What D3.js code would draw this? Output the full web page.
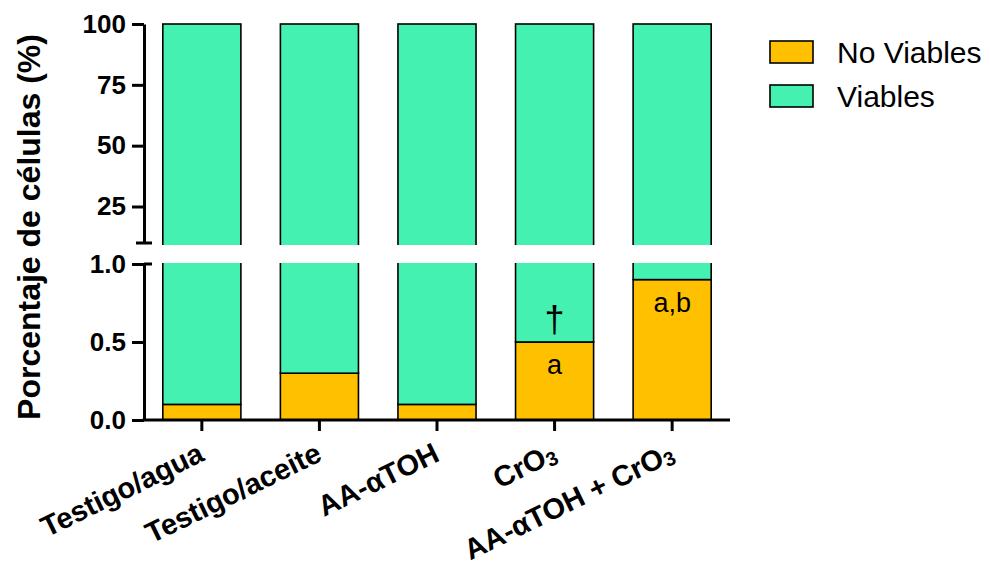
<!DOCTYPE html>
<html>
<head>
<meta charset="utf-8">
<script src="https://cdn.jsdelivr.net/npm/d3@7"></script>
<style>
  html, body { margin: 0; padding: 0; background: #fff; }
  svg { display: block; font-family: "Liberation Sans", Arial, sans-serif; }
</style>
</head>
<body>
<svg id="chart" width="990" height="572"></svg>
<script>
// Groups on the x axis
const categories = ["Testigo/agua", "Testigo/aceite", "AA-αTOH", "CrO3", "AA-αTOH + CrO3"];
// Percentage of non-viable cells per group; viable = 100 - non-viable
const noViables = [0.1, 0.3, 0.1, 0.5, 0.9];
const viables = noViables.map(v => 100 - v);
// Significance marks drawn inside the bars
const marks = [
  { group: "CrO3", series: "Viables", text: "†" },
  { group: "CrO3", series: "No Viables", text: "a" },
  { group: "AA-αTOH + CrO3", series: "No Viables", text: "a,b" }
];
const seriesNames = ["No Viables", "Viables"];
const upperTicks = [25, 50, 75, 100];
const lowerTicks = [0, 0.5, 1.0];

const colors = { "No Viables": "#FFC000", "Viables": "#44F1B1" };

const svg = d3.select("#chart");
const axisX = 144;

const x = d3.scaleBand()
  .domain(categories)
  .range([axisX, 730])
  .paddingInner(0.336)
  .paddingOuter(0.16);

// Broken y axis: two stacked linear segments
const yUp = d3.scaleLinear().domain([10, 100]).range([243, 24]);
const yLow = d3.scaleLinear().domain([0, 1]).range([420, 264]);

const rows = categories.map((c, i) => ({
  cat: c,
  stacks: [
    { key: "No Viables", y0: 0, y1: noViables[i] },
    { key: "Viables", y0: noViables[i], y1: noViables[i] + viables[i] }
  ]
}));

const defs = svg.append("defs");
defs.append("clipPath").attr("id", "clipUp")
  .append("rect").attr("x", 0).attr("y", 0).attr("width", 990).attr("height", 245);
defs.append("clipPath").attr("id", "clipLow")
  .append("rect").attr("x", 0).attr("y", 263).attr("width", 990).attr("height", 160);

function drawSegment(scale, clipId) {
  const g = svg.append("g").attr("clip-path", `url(#${clipId})`);
  rows.forEach(r => {
    g.selectAll(null)
      .data(r.stacks)
      .join("rect")
      .attr("x", x(r.cat))
      .attr("width", x.bandwidth())
      .attr("y", d => scale(d.y1))
      .attr("height", d => scale(d.y0) - scale(d.y1))
      .attr("fill", d => colors[d.key])
      .attr("stroke", "#000")
      .attr("stroke-width", 1.6);
  });
}
drawSegment(yUp, "clipUp");
drawSegment(yLow, "clipLow");

// Y axes
const tickFont = g => g.selectAll("text")
  .attr("font-size", 26).attr("font-weight", "bold").attr("fill", "#000")
  .attr("font-family", "'Liberation Sans', Arial, sans-serif");
const styleAxis = g => {
  g.select(".domain").attr("stroke-width", 3).attr("stroke", "#000");
  g.selectAll(".tick line").attr("stroke-width", 3).attr("stroke", "#000");
  tickFont(g);
};

svg.append("g")
  .attr("transform", `translate(${axisX},0)`)
  .call(d3.axisLeft(yUp).tickValues(upperTicks).tickSize(12).tickSizeOuter(0).tickPadding(6))
  .call(styleAxis);

svg.append("g")
  .attr("transform", `translate(${axisX},0)`)
  .call(d3.axisLeft(yLow).tickValues(lowerTicks).tickFormat(d3.format(".1f")).tickSize(12).tickSizeOuter(0).tickPadding(6))
  .call(styleAxis);

// Break caps on the y axis
svg.append("line")
  .attr("x1", axisX - 8).attr("x2", axisX + 8)
  .attr("y1", yUp.range()[0]).attr("y2", yUp.range()[0])
  .attr("stroke", "#000").attr("stroke-width", 3);
svg.append("line")
  .attr("x1", axisX).attr("x2", axisX + 8)
  .attr("y1", yLow(1)).attr("y2", yLow(1))
  .attr("stroke", "#000").attr("stroke-width", 3);

// X axis
const xAxis = svg.append("g")
  .attr("transform", `translate(0,${yLow(0)})`)
  .call(d3.axisBottom(x).tickSize(11).tickSizeOuter(0).tickFormat(""));
xAxis.select(".domain").attr("stroke-width", 3).attr("stroke", "#000")
  .attr("d", `M${axisX - 1.5},0H730`);
xAxis.selectAll(".tick line").attr("stroke-width", 3).attr("stroke", "#000");

// Rotated category labels with subscript for CrO3
const labels = svg.append("g")
  .attr("font-size", 29).attr("font-weight", "bold").attr("fill", "#000");
categories.forEach(c => {
  const t = labels.append("text")
    .attr("text-anchor", "end")
    .attr("transform", `translate(${x(c) + x.bandwidth() / 2 + 4},460) rotate(-26)`);
  const parts = c.split("CrO3");
  parts.forEach((p, i) => {
    if (p) t.append("tspan").text(p);
    if (i < parts.length - 1) {
      t.append("tspan").text("CrO");
      t.append("tspan").attr("font-size", 20).attr("dy", 3).text("3");
    }
  });
});

// Y title
svg.append("text")
  .attr("transform", "translate(40,227) rotate(-90)")
  .attr("text-anchor", "middle")
  .attr("font-size", 32).attr("font-weight", "bold")
  .text("Porcentaje de células (%)");

// Significance marks
const markG = svg.append("g").attr("text-anchor", "middle").attr("fill", "#000");
marks.forEach(m => {
  const i = categories.indexOf(m.group);
  const cx = x(m.group) + x.bandwidth() / 2;
  const isDagger = m.text === "†";
  const yPos = m.series === "No Viables"
    ? yLow(noViables[i]) + 32
    : yLow(noViables[i]) - 10;
  markG.append("text")
    .attr("x", cx).attr("y", yPos)
    .attr("font-size", isDagger ? 36 : 27)
    .text(m.text);
});

// Legend
const legend = svg.append("g").attr("transform", "translate(770,41)");
seriesNames.forEach((s, i) => {
  const g = legend.append("g").attr("transform", `translate(0,${i * 44})`);
  g.append("rect").attr("width", 43).attr("height", 22)
    .attr("fill", colors[s]).attr("stroke", "#000").attr("stroke-width", 1.6);
  g.append("text").attr("x", 67).attr("y", 22)
    .attr("font-size", 30).text(s);
});
</script>
</body>
</html>
